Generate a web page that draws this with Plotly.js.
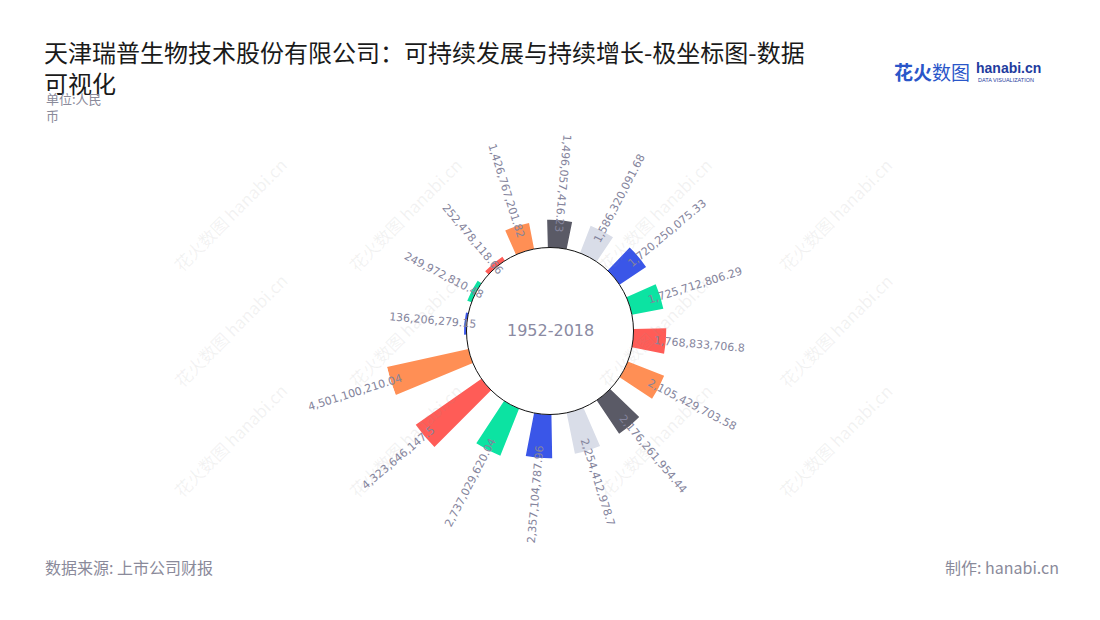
<!DOCTYPE html>
<html><head><meta charset="utf-8">
<script src="https://cdn.plot.ly/plotly-3.0.1.min.js"></script>
<style>html,body{margin:0;padding:0;background:#fff}#chart{width:1100px;height:620px}</style>
</head><body><div id="chart"></div>
<script>
// ---- data ----
const categories = ['1','2','3','4','5','6','7','8','9','10','11','12','13','14','15','16'];
const values = [136206279.15, 249972810.48, 252478118.66, 1426767201.82, 1496057416.23,
  1586320091.68, 1720250075.33, 1725712806.29, 1768833706.8, 2105429703.58,
  2176261954.44, 2254412978.7, 2357104787.96, 2737029620.04, 4323646147.5, 4501100210.04];
const valueLabels = values.map(v => v.toLocaleString('en-US', {maximumFractionDigits: 2}));
const centerLabel = '1952-2018';
const palette = ['#3a56e8', '#0ce3a2', '#ff5c57', '#ff8f55', '#5a5a66', '#d9dde8'];

// ---- geometry ----
const W = 1100, H = 620, CX = 550, CY = 331, R_OUT = 167, HOLE = 0.5;
const ROTATION = 175;           // plotly angular rotation (first category)
const BAR_PX = 22;              // approx. bar thickness in pixels
const RMAX = Math.max(...values);
const rHolePx = R_OUT * HOLE;
const pxPerUnit = (R_OUT - rHolePx) / RMAX;
const N = categories.length;
const LABEL_FONT = 11, LABEL_FAMILY = 'DejaVu Sans';
const labelColor = '#84849c';

const ctx = document.createElement('canvas').getContext('2d');
ctx.font = LABEL_FONT + 'px "' + LABEL_FAMILY + '"';

// bar angular widths (category units) so bars keep a near-constant pixel thickness
const barWidths = values.map(v => {
  const rMid = rHolePx + 0.5 * v * pxPerUnit;
  const deg = BAR_PX / rMid * 180 / Math.PI;
  return deg / (360 / N);
});

const annotations = [];
values.forEach((v, i) => {
  let th = (90 - ROTATION + i * 360 / N) % 360; if (th < 0) th += 360; // clockwise from north
  const outward = th > 10 && th < 180;
  let ang = outward ? th - 90 : th - 270;
  while (ang > 180) ang -= 360; while (ang < -180) ang += 360;
  const tw = ctx.measureText(valueLabels[i]).width;
  const rc = rHolePx + v * pxPerUnit - 12 + tw / 2;
  const rad = th * Math.PI / 180;
  const px = CX + rc * Math.sin(rad), py = CY - rc * Math.cos(rad);
  annotations.push({xref: 'paper', yref: 'paper', x: px / W, y: 1 - py / H, xanchor: 'center', yanchor: 'middle',
    text: valueLabels[i], textangle: ang, showarrow: false,
    font: {family: LABEL_FAMILY, size: LABEL_FONT, color: labelColor}});
});

annotations.push({xref: 'paper', yref: 'paper', x: CX / W, y: 1 - CY / H, text: centerLabel, showarrow: false,
  xanchor: 'center', yanchor: 'middle', font: {family: 'DejaVu Sans', size: 16, color: '#8a8aa2'}});

// unit & footer
annotations.push({xref: 'paper', yref: 'paper', x: 44 / W, y: 1 - 87 / H, xanchor: 'left', yanchor: 'top', align: 'left',
  text: '单位:人民<br>币', showarrow: false, font: {family: 'Noto Sans CJK SC', size: 13, color: '#8a8a9a'}});
annotations.push({xref: 'paper', yref: 'paper', x: 43 / W, y: 1 - 567 / H, xanchor: 'left', yanchor: 'middle',
  text: '数据来源: 上市公司财报', showarrow: false, font: {family: 'Noto Sans CJK SC', size: 16, color: '#8a8a9a'}});
annotations.push({xref: 'paper', yref: 'paper', x: 1061 / W, y: 1 - 567 / H, xanchor: 'right', yanchor: 'middle',
  text: '制作: hanabi.cn', showarrow: false, font: {family: 'Noto Sans CJK SC', size: 16, color: '#8a8a9a'}});
// logo
annotations.push({xref: 'paper', yref: 'paper', x: 892 / W, y: 1 - 72 / H, xanchor: 'left', yanchor: 'middle',
  text: '<b>花火</b>数图', showarrow: false, font: {family: 'Noto Sans CJK SC', size: 19, color: '#2a56c9'}});
annotations.push({xref: 'paper', yref: 'paper', x: 974 / W, y: 1 - 68 / H, xanchor: 'left', yanchor: 'middle',
  text: '<b>hanabi.cn</b>', showarrow: false, font: {family: 'Liberation Sans', size: 14, color: '#1f3c9e'}});
annotations.push({xref: 'paper', yref: 'paper', x: 976 / W, y: 1 - 80 / H, xanchor: 'left', yanchor: 'middle',
  text: 'DATA VISUALIZATION', showarrow: false, font: {family: 'Liberation Sans', size: 5.5, color: '#1f3c9e'}});
// watermarks
const WM_X = [165, 405, 655, 900];
const WM_Y = [150, 330, 505];
WM_Y.forEach(y => WM_X.forEach(x => annotations.push({xref: 'paper', yref: 'paper', x: x / W, y: 1 - y / H,
  text: '花火数图 hanabi.cn', textangle: -45, showarrow: false,
  font: {family: 'Noto Sans CJK SC', size: 17, color: 'rgba(150,150,150,0.12)'}})));

const trace = {
  type: 'barpolar',
  r: values,
  theta: categories,
  width: barWidths,
  marker: {color: values.map((_, i) => palette[i % palette.length]), line: {width: 0}},
  hoverinfo: 'skip'
};

const layout = {
  width: W, height: H,
  margin: {l: 0, r: 0, t: 0, b: 0},
  paper_bgcolor: '#ffffff',
  showlegend: false,
  title: {text: '天津瑞普生物技术股份有限公司：可持续发展与持续增长-极坐标图-数据<br>可视化',
    xref: 'container', yref: 'container', x: 44 / W, xanchor: 'left', y: 1 - 62 / H, yanchor: 'top',
    font: {family: 'Noto Sans CJK SC', size: 24, color: '#1a1a1a'}},
  polar: {
    domain: {x: [(CX - R_OUT) / W, (CX + R_OUT) / W], y: [1 - (CY + R_OUT) / H, 1 - (CY - R_OUT) / H]},
    hole: HOLE,
    bgcolor: 'rgba(0,0,0,0)',
    angularaxis: {type: 'category', rotation: ROTATION, direction: 'clockwise', visible: false,
      showgrid: false, showline: false, showticklabels: false, ticks: ''},
    radialaxis: {range: [0, RMAX], visible: false, showgrid: false, showline: false, showticklabels: false, ticks: ''}
  },
  shapes: [{type: 'circle', xref: 'paper', yref: 'paper',
    x0: (CX - rHolePx) / W, x1: (CX + rHolePx) / W, y0: 1 - (CY + rHolePx) / H, y1: 1 - (CY - rHolePx) / H,
    line: {color: '#111', width: 1}, layer: 'above'}],
  annotations: annotations
};

Plotly.newPlot('chart', [trace], layout, {displayModeBar: false, staticPlot: true});
</script></body></html>
